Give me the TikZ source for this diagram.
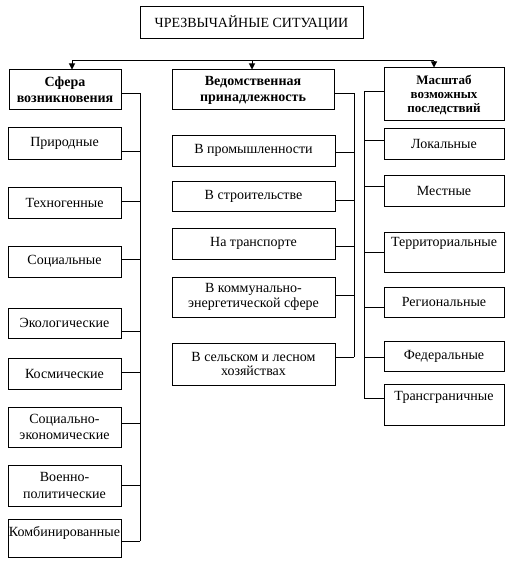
\documentclass[tikz,border=0pt]{standalone}
\usepackage{fontspec}
\setmainfont{Liberation Serif}
\usetikzlibrary{arrows.meta}
\tikzset{
  box/.style={draw, line width=1pt, inner sep=0pt, align=center, font=\fontsize{14}{16.5}\selectfont},
  midbox/.style={font=\fontsize{14}{14.5}\selectfont},
  hdr/.style={font=\fontsize{14}{16}\selectfont\bfseries},
  hdrsmall/.style={font=\fontsize{13}{14}\selectfont\bfseries},
  wire/.style={line width=1pt},
  arr/.style={wire, -{Triangle[length=6pt,width=6pt]}}
}
\newcommand\bx[7][]{\node[box,minimum width={(#5-#3)*1pt},minimum height={(#6-#4)*1pt},#1] (#2) at ({(#3+#5)/2},{(#4+#6)/2}) {#7};}
\begin{document}
\begin{tikzpicture}[x=1pt,y=-1pt]
\useasboundingbox (0,0) rectangle (517,567);
% title
\bx{top}{140}{7}{363}{39}{ЧРЕЗВЫЧАЙНЫЕ СИТУАЦИИ}
% headers
\bx[hdr]{h1}{9}{70}{121}{110}{Сфера\\возникновения}
\bx[hdr]{h2}{172}{70}{334}{110}{Ведомственная\\принадлежность}
\bx[hdrsmall]{h3}{384}{68}{504}{121}{Масштаб\\возможных\\последствий}
% top distribution line
\coordinate (T1) at (72,61);
\coordinate (T2) at (252,61);
\coordinate (T3) at (434,61);
\draw[wire] (T1) -- (T3);
\draw[arr] (T1) -- (T1|-h1.north);
\draw[arr] (T2) -- (T2|-h2.north);
\draw[arr] (T3) -- (T3|-h3.north);
% left column
\bx{a1}{8}{127}{121}{159}{Природные}
\bx{a2}{8}{187}{121}{218}{Техногенные}
\bx{a3}{8}{246}{121}{277}{Социальные}
\bx{a4}{8}{308}{121}{338}{Экологические}
\bx{a5}{8}{358}{121}{389}{Космические}
\bx{a6}{8}{407}{121}{447}{Социально-\\экономические}
\bx{a7}{8}{465}{121}{506}{Военно-\\политические}
\bx{a8}{8}{519}{121}{557}{\raisebox{5pt}[\height][\depth]{Комбинированные}}
\coordinate (L) at (140,94);
\draw[wire] (h1.east|-L) -- (L) -- (L|-0,541);
\foreach \n/\y in {a1/151,a2/201,a3/259,a4/331,a5/372,a6/423,a7/485,a8/541}
  \draw[wire] (\n.east|-0,\y) -- (L|-0,\y);
% middle column
\bx[midbox]{b1}{172}{135}{335}{166}{В промышленности}
\bx[midbox]{b2}{172}{181}{335}{211}{В строительстве}
\bx[midbox]{b3}{172}{228}{335}{259}{На транспорте}
\bx[midbox]{b4}{172}{277}{335}{317}{В коммунально-\\энергетической сфере}
\bx[midbox]{b5}{172}{343}{335}{385}{В сельском и лесном\\хозяйствах}
\coordinate (M) at (354,94);
\draw[wire] (h2.east|-M) -- (M) -- (M|-0,357);
\foreach \n/\y in {b1/152,b2/200,b3/246,b4/295,b5/357}
  \draw[wire] (\n.east|-0,\y) -- (M|-0,\y);
% right column
\bx{c1}{384}{128}{504}{159}{Локальные}
\bx{c2}{384}{175}{504}{206}{Местные}
\bx{c3}{384}{232}{504}{272}{\raisebox{9pt}[\height][\depth]{Территориальные}}
\bx{c4}{384}{287}{504}{317}{Региональные}
\bx{c5}{384}{341}{504}{371}{Федеральные}
\bx{c6}{384}{384}{504}{425}{\raisebox{7pt}[\height][\depth]{Трансграничные}}
\coordinate (R) at (364,92);
\draw[wire] (h3.west|-R) -- (R) -- (R|-0,398);
\foreach \n/\y in {c1/140,c2/186,c3/252,c4/307,c5/357,c6/398}
  \draw[wire] (\n.west|-0,\y) -- (R|-0,\y);
\end{tikzpicture}
\end{document}
